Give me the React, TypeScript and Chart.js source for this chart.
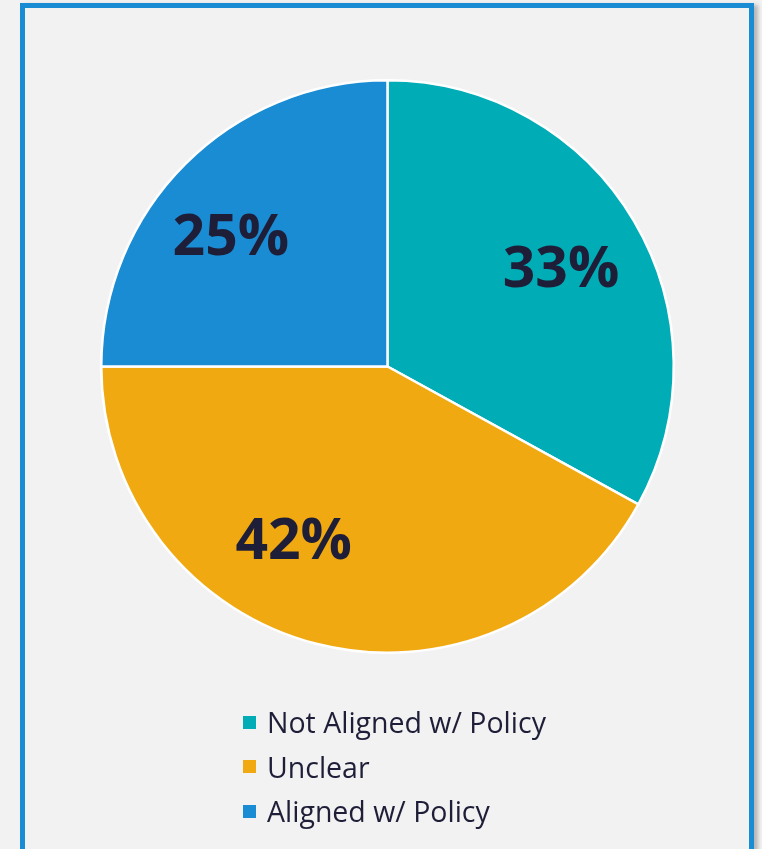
import React, { useEffect, useRef } from "react";
import { Chart, registerables } from "chart.js";

Chart.register(...registerables);

const categories = ["Not Aligned w/ Policy", "Unclear", "Aligned w/ Policy"];
const values = [33, 42, 25];
const valueLabels = ["33%", "42%", "25%"];
const colors = ["#00ACB5", "#F0A911", "#1A8CD4"];

const TEXT = "#1E1E38";

const labelPlugin = {
  id: "sliceLabels",
  afterDatasetsDraw(chart: any) {
    const ctx = chart.ctx;
    const meta = chart.getDatasetMeta(0);
    const nudges = [
      [1, 6],
      [-44, -18],
      [-15, 14],
    ];
    ctx.save();
    ctx.fillStyle = TEXT;
    ctx.font = "700 57px 'Open Sans'";
    ctx.textAlign = "center";
    ctx.textBaseline = "middle";
    meta.data.forEach((arc: any, i: number) => {
      const { x, y, startAngle, endAngle, outerRadius } = arc.getProps(
        ["x", "y", "startAngle", "endAngle", "outerRadius"],
        true
      );
      const mid = (startAngle + endAngle) / 2;
      const r = outerRadius * 0.7;
      const lx = x + Math.cos(mid) * r + nudges[i][0];
      const ly = y + Math.sin(mid) * r + nudges[i][1];
      ctx.fillText(valueLabels[i], lx, ly);
    });
    ctx.restore();
  },
};

export default function App() {
  const ref = useRef<HTMLCanvasElement | null>(null);

  useEffect(() => {
    if (!ref.current) return;
    const chart = new Chart(ref.current, {
      type: "pie",
      data: {
        labels: categories,
        datasets: [
          {
            data: values,
            backgroundColor: colors,
            borderColor: "#FFFFFF",
            borderWidth: 2.5,
          },
        ],
      },
      options: {
        animation: false,
        responsive: false,
        maintainAspectRatio: false,
        layout: { padding: { left: 100, top: 79, right: 87, bottom: 195 } },
        plugins: {
          legend: { display: false },
          tooltip: { enabled: false },
        },
      },
      plugins: [labelPlugin],
    });
    return () => chart.destroy();
  }, []);

  return (
    <div
      style={{
        position: "fixed",
        left: 0,
        top: 0,
        width: 762,
        height: 849,
        background: "#F2F2F2",
        overflow: "hidden",
      }}
    >
      <div
        style={{
          position: "absolute",
          left: 20,
          top: 3,
          width: 724,
          height: 860,
          border: "5px solid #1A8CD4",
          boxShadow: "4px 2px 4px rgba(0,0,0,0.25)",
          background: "#F2F2F2",
        }}
      />
      <canvas
        ref={ref}
        width={762}
        height={849}
        style={{ position: "absolute", left: 0, top: 0 }}
      />
      <div
        style={{
          position: "absolute",
          left: 243,
          top: 700,
          fontFamily: "'Open Sans', sans-serif",
          fontSize: 28.5,
          color: TEXT,
        }}
      >
        {categories.map((c, i) => (
          <div
            key={c}
            style={{ display: "flex", alignItems: "center", height: 44.5 }}
          >
            <span
              style={{
                display: "inline-block",
                width: 13,
                height: 13,
                background: colors[i],
                marginRight: 11,
              }}
            />
            <span style={{ lineHeight: "44.5px" }}>{c}</span>
          </div>
        ))}
      </div>
    </div>
  );
}
